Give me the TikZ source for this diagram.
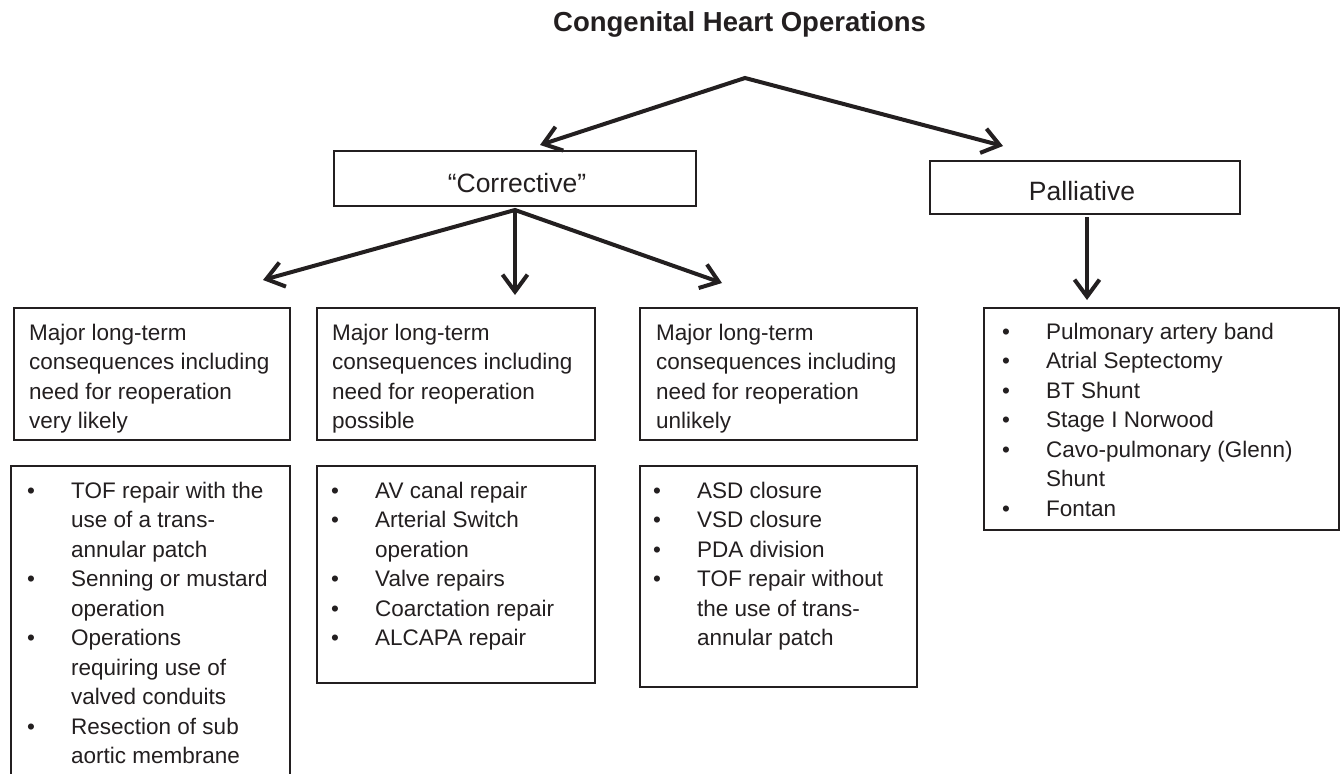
\documentclass[tikz,border=0pt]{standalone}
\usepackage{fontspec}
\setmainfont{Liberation Sans}
\usetikzlibrary{arrows.meta}
\definecolor{ink}{RGB}{35,31,32}
\newcommand{\blist}[1]{\begin{tabular}[t]{@{}l@{}l@{}}#1\end{tabular}}
\newcommand{\plines}[1]{\begin{tabular}[t]{@{}l@{}}#1\end{tabular}}
\newcommand{\bi}{\makebox[44pt][l]{\textbullet}}
\tikzset{
  box/.style={draw=ink, line width=2pt, rectangle, inner sep=0pt, anchor=north west},
  txt/.style={font=\fontsize{22.5}{29.5}\selectfont, text=ink, inner sep=0pt, anchor=base west},
  lbl/.style={font=\fontsize{26.5}{30}\selectfont, text=ink, inner sep=0pt, anchor=base},
  arr/.style={draw=ink, line width=4pt, line join=miter, >={Straight Barb[length=17pt,width=25pt]}}
}
\begin{document}
\begin{tikzpicture}[x=1pt,y=-1pt]
\clip (0,0) rectangle (1340,773);
\fill[white] (0,0) rectangle (1340,773);

% title
\node[font=\fontsize{27.5}{31}\selectfont\bfseries, text=ink, inner sep=0pt, anchor=base west] (title) at (553,32) {Congenital Heart Operations};

% level 1 boxes
\node[box, minimum width=362pt, minimum height=55pt] (corr) at (333,150) {};
\node[lbl] (corrt) at (517,192) {“Corrective”};
\node[box, minimum width=310pt, minimum height=53pt] (pall) at (929,160) {};
\node[lbl] (pallt) at (1082,200) {Palliative};

% heading boxes
\node[box, minimum width=276pt, minimum height=132pt] (h1) at (13,307) {};
\node[box, minimum width=278pt, minimum height=132pt] (h2) at (316,307) {};
\node[box, minimum width=277pt, minimum height=132pt] (h3) at (639,307) {};
\node[txt] (h1t) at ([xshift=16pt,yshift=-33pt]h1.north west) {\plines{Major long-term\\consequences including\\need for reoperation\\very likely}};
\node[txt] (h2t) at ([xshift=16pt,yshift=-33pt]h2.north west) {\plines{Major long-term\\consequences including\\need for reoperation\\possible}};
\node[txt] (h3t) at ([xshift=17pt,yshift=-33pt]h3.north west) {\plines{Major long-term\\consequences including\\need for reoperation\\unlikely}};

% list boxes
\node[box, minimum width=279pt, minimum height=340pt] (l1) at (10,465) {};
\node[box, minimum width=278pt, minimum height=217pt] (l2) at (316,465) {};
\node[box, minimum width=277pt, minimum height=221pt] (l3) at (639,465) {};
\node[box, minimum width=355pt, minimum height=222pt] (l4) at (983,307) {};

\node[txt] (l1t) at ([xshift=17pt,yshift=-33pt]l1.north west) {\blist{%
\bi & TOF repair with the\\ & use of a trans-\\ & annular patch\\
\bi & Senning or mustard\\ & operation\\
\bi & Operations\\ & requiring use of\\ & valved conduits\\
\bi & Resection of sub\\ & aortic membrane}};
\node[txt] (l2t) at ([xshift=15pt,yshift=-33pt]l2.north west) {\blist{%
\bi & AV canal repair\\
\bi & Arterial Switch\\ & operation\\
\bi & Valve repairs\\
\bi & Coarctation repair\\
\bi & ALCAPA repair}};
\node[txt] (l3t) at ([xshift=14pt,yshift=-33pt]l3.north west) {\blist{%
\bi & ASD closure\\
\bi & VSD closure\\
\bi & PDA division\\
\bi & TOF repair without\\ & the use of trans-\\ & annular patch}};
\node[txt] (l4t) at ([xshift=19pt,yshift=-32pt]l4.north west) {\blist{%
\bi & Pulmonary artery band\\
\bi & Atrial Septectomy\\
\bi & BT Shunt\\
\bi & Stage I Norwood\\
\bi & Cavo-pulmonary (Glenn)\\ & Shunt\\
\bi & Fontan}};

% connectors
\coordinate (a0) at (745,78);
\coordinate (a1) at (540,145);
\coordinate (a2) at (1003,146);
\coordinate (b0) at (515,210);
\coordinate (b1) at (263,280);
\coordinate (b2) at (515,295);
\coordinate (b3) at (722,283);
\coordinate (c0) at (1087,217);
\coordinate (c1) at (1087,300);

\draw[arr, <->] (a1) -- (a0) -- (a2);
\draw[arr, <->] (b1) -- (b0) -- (b3);
\draw[arr, ->] (b0) -- (b2);
\draw[arr, ->] (c0) -- (c1);
\end{tikzpicture}
\end{document}
